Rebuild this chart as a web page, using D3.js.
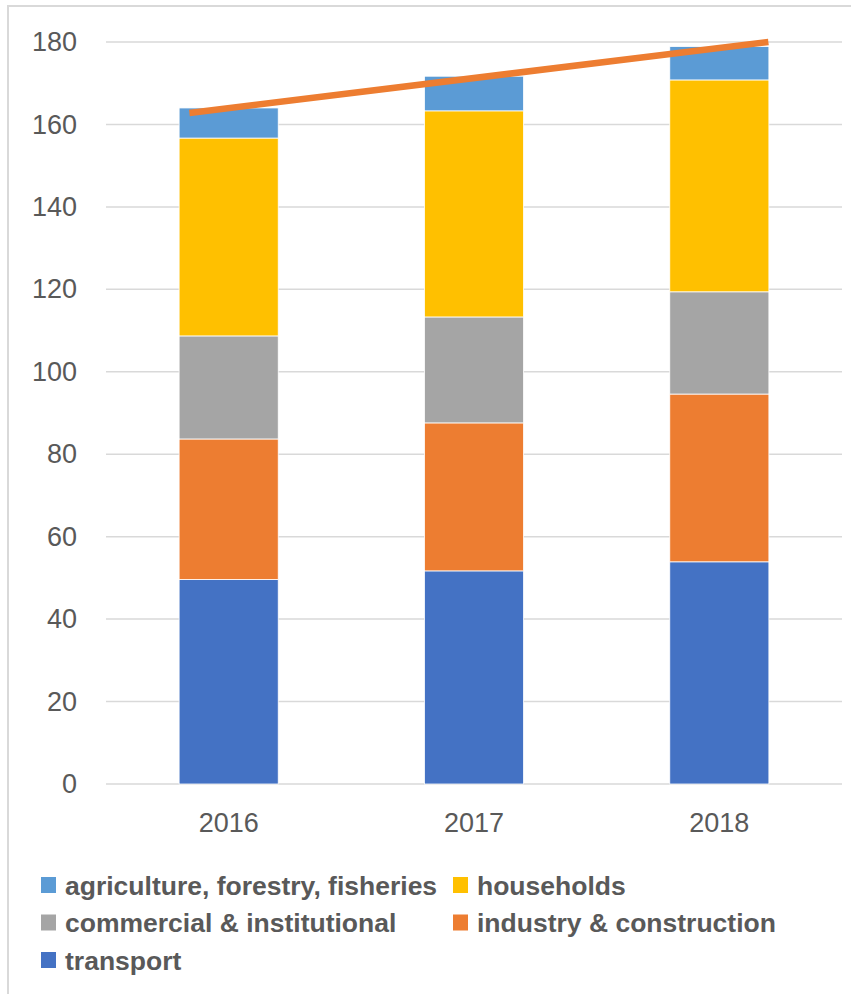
<!DOCTYPE html>
<html>
<head>
<meta charset="utf-8">
<script src="https://cdn.jsdelivr.net/npm/d3@7"></script>
<style>
  body { margin: 0; background: #fff; }
  text { font-family: "Liberation Sans", Arial, sans-serif; }
</style>
</head>
<body>
<div id="chart-container"></div>
<script>
// Data
const years = ["2016", "2017", "2018"];
const transport   = [49.6, 51.7, 53.9];
const industry    = [34.1, 35.9, 40.7];
const commercial  = [25.0, 25.7, 24.8];
const households  = [48.0, 50.0, 51.4];
const agriculture = [7.3, 8.4, 8.1];
const seriesNames = ["transport", "industry & construction", "commercial & institutional", "households", "agriculture, forestry, fisheries"];
const seriesColors = ["#4472C4", "#ED7D31", "#A5A5A5", "#FFC000", "#5B9BD5"];
const yTicks = [0, 20, 40, 60, 80, 100, 120, 140, 160, 180];
// trend line (drawn on top), year position and value at both ends
const trendYears = [2015.84, 2018.2];
const trendValues = [162.8, 180];

const W = 851, H = 994;
const plot = {left: 106, right: 842, top: 42, bottom: 784};

const svg = d3.select("#chart-container")
  .append("svg")
    .attr("width", W)
    .attr("height", H);

// chart border (light grey frame)
svg.append("rect")
  .attr("x", 8).attr("y", 6)
  .attr("width", 900).attr("height", 1100)
  .attr("fill", "none")
  .attr("stroke", "#d9d9d9")
  .attr("stroke-width", 2);

const x = d3.scaleBand()
  .domain(years)
  .range([plot.left, plot.right])
  .paddingInner(0.596)
  .paddingOuter(0.298);

const y = d3.scaleLinear()
  .domain([0, 180])
  .range([plot.bottom, plot.top]);

// horizontal gridlines
svg.selectAll(".grid")
  .data(yTicks)
  .join("line")
  .attr("class", "grid")
  .attr("x1", plot.left)
  .attr("x2", plot.right)
  .attr("y1", d => y(d))
  .attr("y2", d => y(d))
  .attr("stroke", "#d9d9d9")
  .attr("stroke-width", 1.5);

// y axis labels
svg.append("g")
  .attr("transform", `translate(${plot.left}, 0)`)
  .call(d3.axisLeft(y).tickValues(yTicks).tickSize(0).tickPadding(29))
  .call(g => g.select(".domain").remove())
  .selectAll("text")
  .attr("fill", "#595959")
  .style("font-size", "27px");

// x axis labels
svg.append("g")
  .attr("transform", `translate(0, ${plot.bottom})`)
  .call(d3.axisBottom(x).tickSize(0).tickPadding(29))
  .call(g => g.select(".domain").remove())
  .selectAll("text")
  .attr("fill", "#595959")
  .style("font-size", "27px");

// stack the series
const rows = years.map((yr, i) => ({
  year: yr,
  "transport": transport[i],
  "industry & construction": industry[i],
  "commercial & institutional": commercial[i],
  "households": households[i],
  "agriculture, forestry, fisheries": agriculture[i]
}));
const stacked = d3.stack().keys(seriesNames)(rows);
const color = d3.scaleOrdinal().domain(seriesNames).range(seriesColors);

svg.append("g")
  .selectAll("g")
  .data(stacked)
  .join("g")
    .attr("fill", d => color(d.key))
  .selectAll("rect")
  .data(d => d)
  .join("rect")
    .attr("x", d => x(d.data.year))
    .attr("width", x.bandwidth())
    .attr("y", d => y(d[1]))
    .attr("height", d => y(d[0]) - y(d[1]))
    .attr("stroke", "#fff")
    .attr("stroke-width", 0.8);

// trend line
const xYear = d3.scaleLinear()
  .domain([2016, 2018])
  .range([x("2016") + x.bandwidth() / 2, x("2018") + x.bandwidth() / 2]);

const line = d3.line()
  .x(d => xYear(d[0]))
  .y(d => y(d[1]));

svg.append("path")
  .datum(d3.zip(trendYears, trendValues))
  .attr("fill", "none")
  .attr("stroke", "#ED7D31")
  .attr("stroke-width", 6.5)
  .attr("d", line);

// legend: two columns, reversed series order
const legendOrder = seriesNames.slice().reverse();
const legend = svg.append("g")
  .selectAll("g")
  .data(legendOrder)
  .join("g")
    .attr("transform", (d, i) => `translate(${i % 2 === 0 ? 41 : 453}, ${885 + Math.floor(i / 2) * 37.5})`);

legend.append("rect")
  .attr("x", 0).attr("y", -8)
  .attr("width", 15).attr("height", 16)
  .attr("fill", d => color(d));

legend.append("text")
  .attr("x", 24)
  .attr("y", 0)
  .attr("dy", "0.36em")
  .attr("fill", "#595959")
  .style("font-size", "26.5px")
  .style("font-weight", "bold")
  .text(d => d);
</script>
</body>
</html>
